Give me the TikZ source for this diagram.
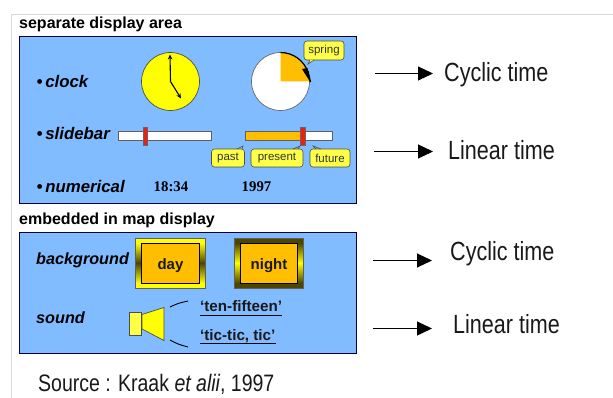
\documentclass[tikz,border=0pt]{standalone}
\usepackage{fontspec}
\setmainfont{Liberation Sans}
\newfontfamily\serifbf{Liberation Serif}[Scale=1]
\newfontfamily\condfont{Liberation Sans}[FakeStretch=0.82]
\usetikzlibrary{arrows.meta,calc}
\definecolor{panelblue}{RGB}{128,188,255}
\definecolor{clockyellow}{RGB}{255,255,0}
\definecolor{tagyellow}{RGB}{255,255,70}
\definecolor{amber}{RGB}{255,190,0}
\definecolor{darkolive}{RGB}{75,70,0}
\definecolor{framegray}{RGB}{218,218,218}
\definecolor{barred}{RGB}{240,30,10}
\definecolor{edgegray}{RGB}{95,95,95}
\newcommand{\fs}[1]{\fontsize{#1pt}{#1pt}\selectfont}
\tikzset{
  x=1pt,y=-1pt,
  panel/.style={draw=black!80!blue,line width=0.9pt,fill=panelblue},
  heading/.style={anchor=west,inner sep=0pt,font=\fs{16}\bfseries},
  rowlabel/.style={anchor=west,inner sep=0pt,font=\fs{16.8}\bfseries\itshape},
  smallrow/.style={anchor=west,inner sep=0pt,font=\fs{16.2}\bfseries\itshape},
  numval/.style={inner sep=0pt,font=\serifbf\fs{14.8}\bfseries},
  bar/.style={draw=edgegray,line width=0.9pt,fill=white},
  slider/.style={draw=black!60,line width=0.5pt,fill=barred},
  tag/.style={draw=black!70,line width=0.6pt,fill=tagyellow,rounded corners=3pt,inner sep=0pt,font=\fs{11.5},text=black!80},
  tagtail/.style={draw=black!70,line width=0.6pt},
  hand/.style={line width=1.1pt,-{Stealth[length=5pt,width=4.5pt]}},
  timetext/.style={anchor=base west,inner ysep=0pt,font=\condfont\fs{26.3},text=black!90},
  arr/.style={line width=1.1pt,-{Triangle[length=15pt,width=14pt]}},
  boxtext/.style={inner sep=0pt,font=\fs{15}\bfseries,text=black!90},
  saying/.style={inner sep=0pt,anchor=west,font=\fs{15.2}\bfseries,text=black!90},
}
\newcommand{\framedbox}[7]{% x1 y1 x2 y2 (outer), side mid colour, side end colour, top colour
  \fill[#7] (#1,#2) rectangle (#3,#4);
  \shade[top color=#6,bottom color=#5] (#1,#2+5) rectangle (#1+6,#2+25);
  \shade[top color=#5,bottom color=#6] (#1,#2+25) rectangle (#1+6,#4-5);
  \shade[top color=#6,bottom color=#5] (#3-6,#2+5) rectangle (#3,#2+25);
  \shade[top color=#5,bottom color=#6] (#3-6,#2+25) rectangle (#3,#4-5);
  \draw[edgegray,line width=0.7pt] (#1,#2) rectangle (#3,#4);
  \draw[black,line width=0.8pt,fill=amber] (#1+6,#2+5.5) rectangle (#3-6,#4-5);
}
\begin{document}
\begin{tikzpicture}
\useasboundingbox (0,0) rectangle (613,398);
\fill[white] (0,0) rectangle (613,398);
% outer page frame
\draw[framegray,line width=1pt] (11.5,398) -- (11.5,14.5) -- (613,14.5);

% ---- separate display area
\node[heading] (h1) at (19,24) {separate display area};
\draw[panel] (19,36) rectangle (356,203);

\node[rowlabel] (l1) at (36.5,81.5) {•\,clock};
\node[rowlabel] (l2) at (36.5,133.5) {•\,slidebar};
\node[rowlabel] (l3) at (36.5,186) {•\,numerical};

% clock
\draw[fill=clockyellow,draw=black!70,line width=0.7pt] (170.5,81.5) circle (29);
\coordinate (pivot) at (170.5,81.5);
\coordinate (h12) at (170,54.5);
\coordinate (h5) at (181,98.5);
\draw[hand] (pivot) -- (h12);
\draw[hand] (pivot) -- (h5);

% season dial
\draw[fill=white,draw=black!60,line width=0.7pt] (280.5,81.5) circle (29);
\fill[amber] (280.5,81.5) -- (280.5,52.5) arc (-90:0:29 and 29) -- cycle;
\draw[line width=1.2pt] (280.5,52.5) arc (-90:-18:29);
\fill[black] (302,69) -- (307.5,68) -- (310.5,82.5) -- cycle;
\draw[black,line width=1.2pt] (308,71) -- (310.5,82);
\node[tag,minimum width=40pt,minimum height=19pt] (spring) at (324,50.5) {spring};
\draw[tagtail,fill=tagyellow] (310,60) -- (308,64) -- (314,60);

% slidebars
\draw[bar] (118.5,131.5) rectangle (211,140.5);
\draw[slider] (143,127.5) rectangle (147.5,145);
\draw[bar] (245.5,131.5) rectangle (332.5,140.5);
\fill[amber] (246,132) rectangle (300,140);
\draw[edgegray,line width=0.9pt] (245.5,131.5) rectangle (300,140.5);
\draw[slider] (300,127.5) rectangle (305,145);

\node[tag,minimum width=33pt,minimum height=18pt] (past) at (228,158) {past};
\node[tag,minimum width=52pt,minimum height=18pt] (present) at (277,158) {present};
\node[tag,minimum width=40pt,minimum height=18pt] (future) at (330,158) {future};
\draw[tagtail] (237,149) -- (243,146) -- (242,149);
\draw[tagtail] (293,149) -- (300,146) -- (298,149);
\draw[tagtail] (316,149) -- (313,146) -- (321,149);

\node[numval] (n1) at (171,187) {18:34};
\node[numval] (n2) at (256.5,187) {1997};

% ---- embedded in map display
\node[heading] (h2) at (19,220.5) {embedded in map display};
\draw[panel] (19,232) rectangle (356,353);

\node[smallrow] (l4) at (36,260) {background};
\node[smallrow] (l5) at (36,318) {sound};

\framedbox{135}{238}{205}{288}{darkolive}{clockyellow}{clockyellow}
\framedbox{234}{238}{303}{288}{clockyellow}{darkolive}{darkolive}
\node[boxtext] (day) at (170.5,266) {day};
\node[boxtext] (night) at (269,266) {night};

% speaker
\draw[fill=tagyellow,draw=black!70,line width=0.7pt] (129.5,312) rectangle (141,335.5);
\draw[fill=clockyellow,draw=black!70,line width=0.7pt] (142,314.5) -- (164,307.5) -- (164,340.5) -- (142,329) -- cycle;
\coordinate (s1a) at (170,307);
\coordinate (s1b) at (188,301);
\coordinate (s2a) at (170,340);
\coordinate (s2b) at (188,347);
\draw[line width=0.9pt] (s1a) .. controls (178,303.3) .. (s1b);
\draw[line width=0.9pt] (s2a) .. controls (178,344.2) .. (s2b);

\node[saying] (tf) at (200,306) {‘ten-fifteen’};
\node[saying] (tt) at (200,336) {‘tic-tic, tic’};
\draw[line width=0.9pt] (tf.west |- 0,315) -- (tf.east |- 0,315);
\draw[line width=0.9pt] (tt.west |- 0,343.5) -- (tt.east |- 0,343.5);

% source
\node[anchor=base west,inner sep=0pt,font=\condfont\fs{23.8},text=black!90] (src) at (38,391) {Source : Kraak \textit{et alii}, 1997};

% right column
\coordinate (a1) at (375,73.5);
\coordinate (a2) at (374,151.5);
\coordinate (a3) at (373,260.5);
\coordinate (a4) at (373,328.5);
\node[timetext,inner xsep=11pt] (t1) at (433,82) {Cyclic time};
\node[timetext,inner xsep=15pt] (t2) at (433,160) {Linear time};
\node[timetext,inner xsep=18pt] (t3) at (432,260) {Cyclic time};
\node[timetext,inner xsep=21pt] (t4) at (432,333.5) {Linear time};
\draw[arr] (a1) -- (a1 -| t1.west);
\draw[arr] (a2) -- (a2 -| t2.west);
\draw[arr] (a3) -- (a3 -| t3.west);
\draw[arr] (a4) -- (a4 -| t4.west);
\end{tikzpicture}
\end{document}
